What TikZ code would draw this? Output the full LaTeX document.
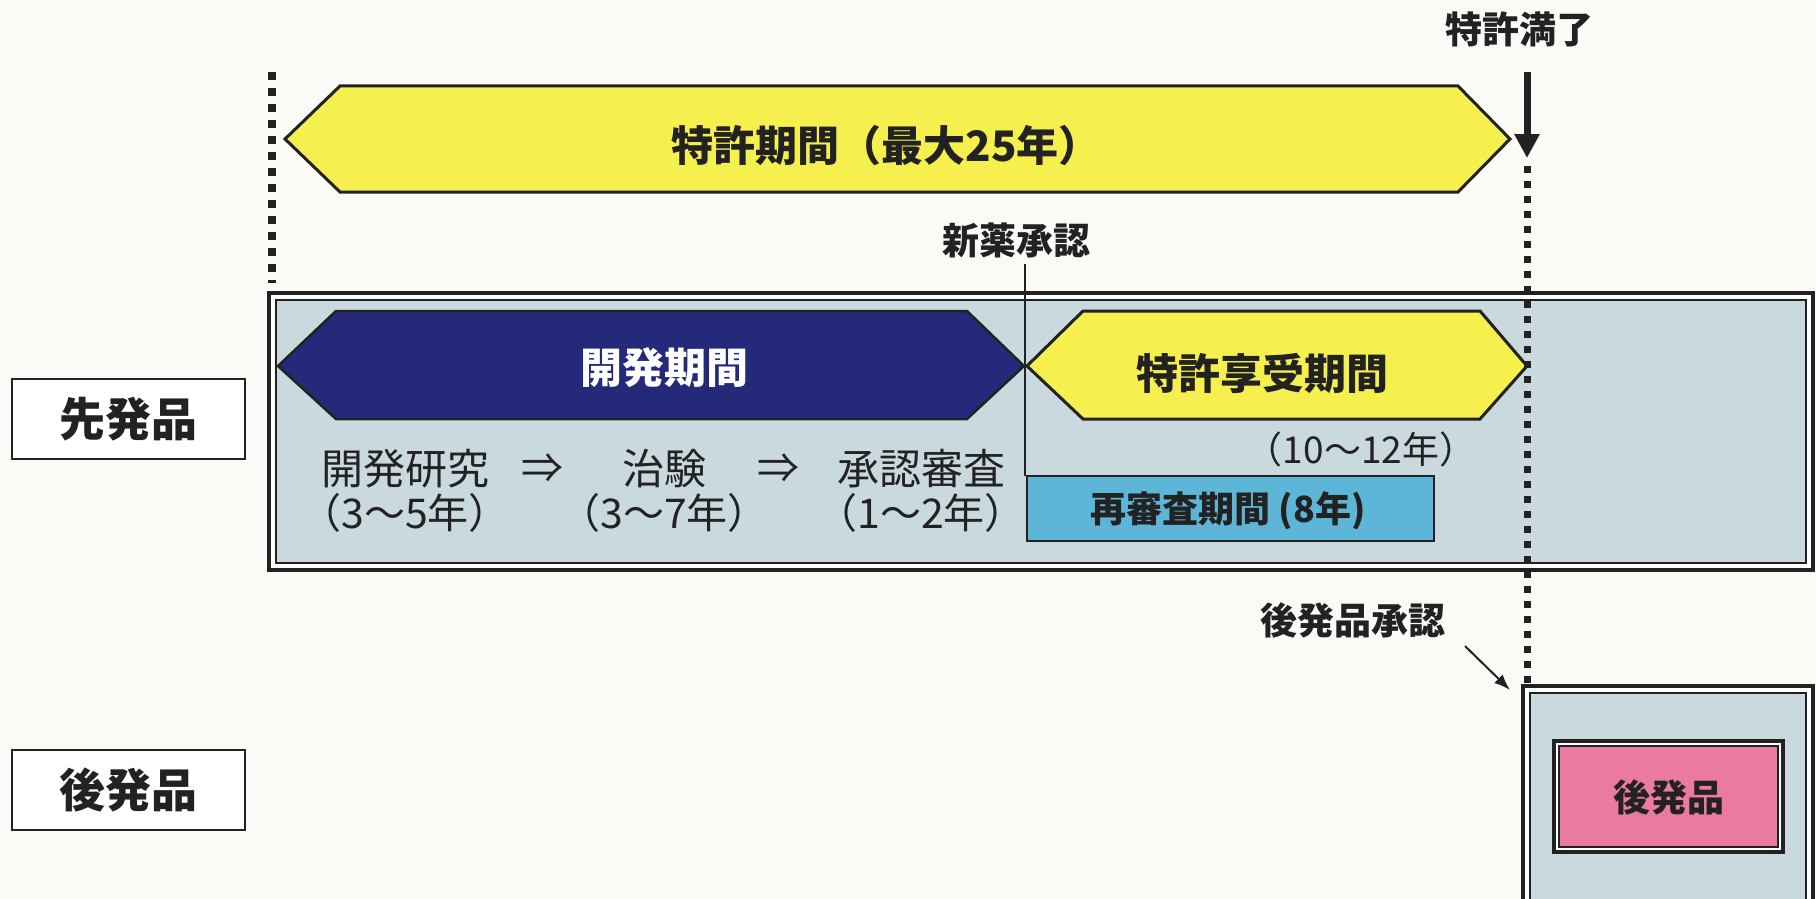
\documentclass[tikz,border=0pt]{standalone}
\usepackage{fontspec}
\setmainfont{Noto Sans CJK JP}
\usetikzlibrary{arrows.meta}
\definecolor{bg}{HTML}{FAFAF6}
\definecolor{panel}{HTML}{C9D9DD}
\definecolor{navy}{HTML}{25297A}
\definecolor{hexyellow}{HTML}{F6F04E}
\definecolor{reblue}{HTML}{5DB5D8}
\definecolor{pinkfill}{HTML}{EA7AA0}
\definecolor{ink}{HTML}{222222}
\newcommand{\fs}[1]{\fontsize{#1pt}{#1pt}\selectfont}
\begin{document}
\begin{tikzpicture}[x=1pt,y=-1pt,
  lbl/.style={font=\bfseries\fs{37}, inner sep=0, text=ink},
  rowtxt/.style={font=\fs{42}, inner sep=0, text=ink},
  dots/.style={line width=8, dash pattern=on 8 off 8, draw=ink},
  hexline/.style={line width=3, line join=miter, draw=ink},
  labelbox/.style={draw=ink, line width=1.5, fill=white, minimum width=233, minimum height=80, inner sep=0, font=\bfseries\fs{46}, text=ink}]
\useasboundingbox (0,0) rectangle (1816,899);
\fill[bg] (0,0) rectangle (1816,899);

% left dotted line
\coordinate (ld1) at (272,72);
\coordinate (ld2) at (272,283);
\draw[dots] (ld1) -- (ld2);

% top patent hexagon
\draw[hexline, fill=hexyellow] (285,139) -- (340,86) -- (1458,86) -- (1510,139) -- (1458,192) -- (340,192) -- cycle;
\node[lbl, font=\bfseries\fs{42}] (patent) at (886,146) {特許期間（最大25年）};

% expiry label and arrow
\node[lbl] (expire) at (1519,29) {特許満了};
\coordinate (ea1) at (1527,72);
\coordinate (ea2) at (1527,158);
\draw[line width=7, draw=ink, -{Triangle[length=24,width=24]}] (ea1) -- (ea2);

% new drug approval label
\node[lbl] (approve) at (1016,240) {新薬承認};

% main panel (double border)
\fill[white] (269,293) rectangle (1813,570);
\draw[line width=3.5, draw=ink] (269,293) rectangle (1813,570);
\draw[line width=1.5, draw=ink, fill=panel] (276,300) rectangle (1806,563);

% approval line
\coordinate (al1) at (1025,264);
\coordinate (al2) at (1025,476);
\draw[line width=1.5, draw=ink] (al1) -- (al2);

% development hexagon
\draw[line width=2.5, draw=ink, line join=miter, fill=navy] (278,366) -- (336,311) -- (967,311) -- (1024,366) -- (967,419) -- (336,419) -- cycle;
\node[lbl, font=\bfseries\fs{42}, text=white] (dev) at (664,368) {開発期間};

% patent enjoy hexagon
\draw[hexline, fill=hexyellow] (1027,366) -- (1083,311) -- (1480,311) -- (1527,366) -- (1480,419) -- (1083,419) -- cycle;
\node[lbl, font=\bfseries\fs{42}] (enjoy) at (1262,373) {特許享受期間};

% process texts
\node[rowtxt] (r1a) at (405,469) {開発研究};
\node[rowtxt] (ar1) at (542,469) {⇒};
\node[rowtxt] (r1b) at (664,469) {治験};
\node[rowtxt] (ar2) at (778,469) {⇒};
\node[rowtxt] (r1c) at (921,469) {承認審査};
\node[rowtxt, font=\fs{41}] (r2a) at (405,513) {（3〜5年）};
\node[rowtxt, font=\fs{41}] (r2b) at (664,513) {（3〜7年）};
\node[rowtxt, font=\fs{41}] (r2c) at (921,513) {（1〜2年）};

\node[rowtxt, font=\fs{37}] (years) at (1361,449) {（10〜12年）};

% re-examination box
\draw[line width=1.5, draw=ink, fill=reblue] (1027,476) rectangle (1434,541);
\node[lbl, font=\bfseries\fs{36}] (reexam) at (1228,511) {再審査期間 (8年)};

% right dotted line
\coordinate (rd1) at (1527,166);
\coordinate (rd2) at (1527,690);
\draw[dots, line width=7, dash pattern=on 7 off 8] (rd1) -- (rd2);

% generic approval
\node[lbl] (gapprove) at (1353,620) {後発品承認};
\coordinate (ga1) at (1465,646);
\coordinate (ga2) at (1510,690);
\draw[line width=2, draw=ink, -{Latex[length=16,width=12]}] (ga1) -- (ga2);

% generic panel
\fill[white] (1523,686) rectangle (1813,899);
\draw[line width=3.5, draw=ink] (1523,686) rectangle (1813,905);
\draw[line width=1.5, draw=ink, fill=panel] (1530,693) rectangle (1806,905);
\draw[line width=3.5, draw=ink, fill=white] (1554,741) rectangle (1783,852);
\draw[line width=1.5, draw=ink, fill=pinkfill] (1559,746) rectangle (1778,847);
\node[lbl] (gen) at (1669,797) {後発品};

% left labels
\node[labelbox] (senpatsu) at (128.5,419) {先発品};
\node[labelbox] (kohatsu) at (128.5,790) {後発品};
\end{tikzpicture}
\end{document}
